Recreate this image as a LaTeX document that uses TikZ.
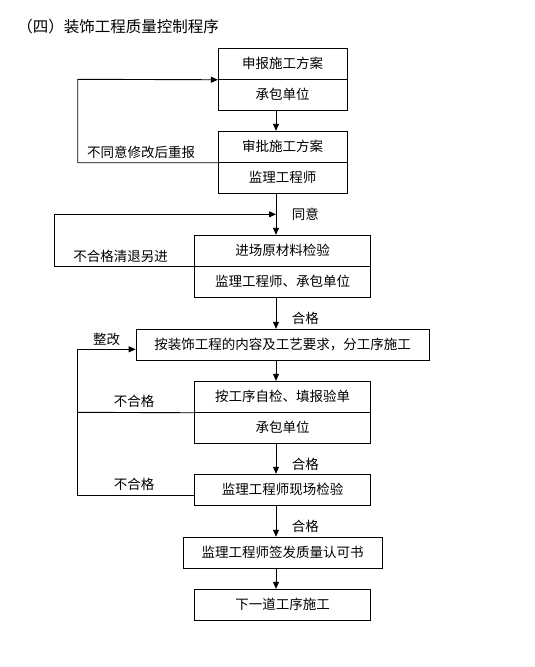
\documentclass[tikz,border=0pt]{standalone}
\usepackage{fontspec}
\newfontfamily\cjk{Noto Sans CJK SC}
\usetikzlibrary{arrows.meta}
\tikzset{
  cell/.style={draw, minimum height=31pt, inner sep=0pt, font=\cjk\fontsize{13.5}{16}\selectfont},
  lbl/.style={inner sep=0pt, font=\cjk\fontsize{13.5}{16}\selectfont}
}
\begin{document}
\begin{tikzpicture}[x=1pt, y=-1pt, line width=0.9pt, >={Triangle[length=7pt,width=6pt]}]
\useasboundingbox (0,0) rectangle (535,667);
\node[lbl, anchor=west, font=\cjk\fontsize{15.5}{18}\selectfont] (title) at (17,27) {（四）装饰工程质量控制程序};

% boxes
\draw 	(282.7, 63.8) node[cell, minimum width=128.7pt](b1a){申报施工方案}
		(282.7, 94.7) node[cell, minimum width=128.7pt](b1b){承包单位}
		(282.7,146.8) node[cell, minimum width=128.7pt](b2a){审批施工方案}
		(282.7,177.8) node[cell, minimum width=128.7pt](b2b){监理工程师};
\draw 	(282.7,250.8) node[cell, minimum width=175.7pt](b3a){进场原材料检验}
		(282.7,281.8) node[cell, minimum width=175.7pt](b3b){监理工程师、承包单位}
		(282.7,344.8) node[cell, minimum width=293.3pt](b4){按装饰工程的内容及工艺要求，分工序施工}
		(282.7,396.8) node[cell, minimum width=175.7pt](b5a){按工序自检、填报验单}
		(282.7,427.8) node[cell, minimum width=175.7pt](b5b){承包单位};
\draw 	(282.7,489.7) node[cell, minimum width=175.7pt](b6){监理工程师现场检验}
		(282.7,552.7) node[cell, minimum width=199.3pt](b7){监理工程师签发质量认可书}
		(282.7,604.8) node[cell, minimum width=175.7pt](b8){下一道工序施工};

\coordinate (ax) at (276,0);
\coordinate (j2) at (276,214.3);
\path[->]
    (b1b.south -| ax) edge node {} (b2a.north -| ax)
    (b2b.south -| ax) edge node {} (b3a.north -| ax)
    (b3b.south -| ax) edge node {} (b4.north -| ax)
    (b4.south -| ax)  edge node {} (b5a.north -| ax)
    (b5b.south -| ax) edge node {} (b6.north -| ax)
    (b6.south -| ax)  edge node {} (b7.north -| ax)
    (b7.south -| ax)  edge node {} (b8.north -| ax);

% return loops
\draw[->] (b2a.south west) -| (77.7,79.3) -- (b1a.south west);
\draw[->] (b3a.south west) -| (54,214.3) -- (j2);
\draw[->] ([yshift=-5.3pt]b6.west) -| (77.7,349.3) -- (b4.west |- 0,349.3);
\draw (b5a.south west) -- (77.7,412.3);

% labels
\node[lbl] (l1) at (141,152.5) {不同意修改后重报};
\node[lbl] (l2) at (305.3,214) {同意};
\node[lbl] (l3) at (120.5,256.7) {不合格清退另进};
\node[lbl] (l4) at (305.3,318.7) {合格};
\node[lbl] (l5) at (106.7,339.3) {整改};
\node[lbl] (l6) at (134,401.7) {不合格};
\node[lbl] (l7) at (305.3,464) {合格};
\node[lbl] (l8) at (134,484.3) {不合格};
\node[lbl] (l9) at (305.3,526.7) {合格};
\end{tikzpicture}
\end{document}
